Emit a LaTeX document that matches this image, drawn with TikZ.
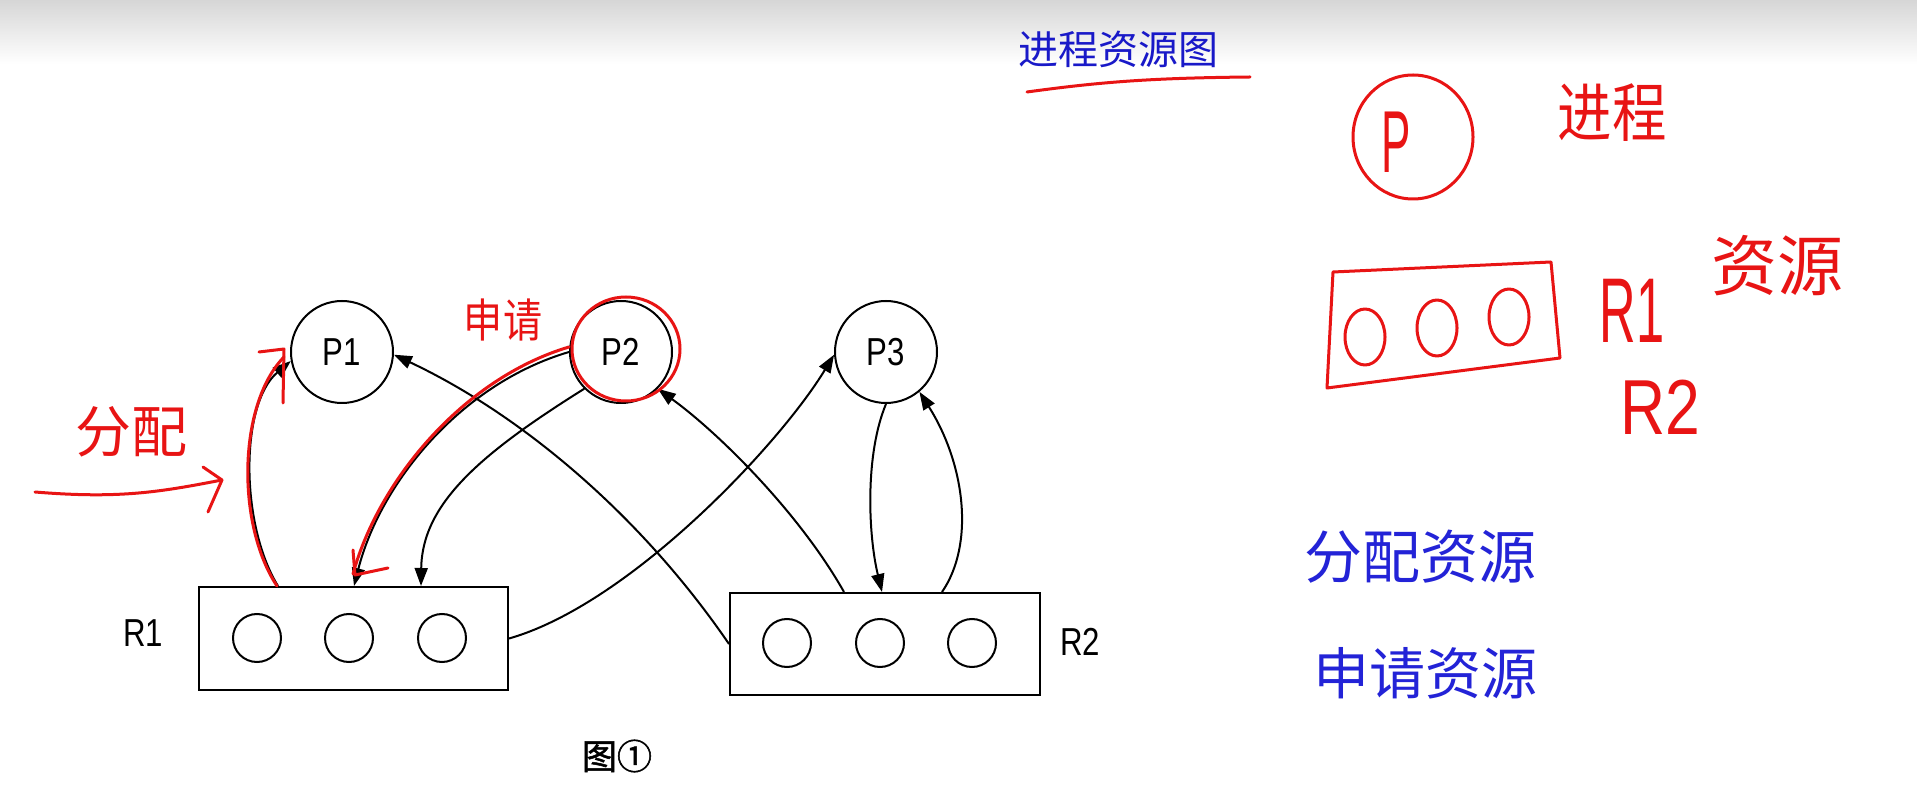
\documentclass[tikz,border=0pt]{standalone}
\usepackage{fontspec}
\setmainfont{Liberation Sans}
\newfontfamily\lab[FakeStretch=0.8]{Liberation Sans}
\newfontfamily\cjk{Noto Sans CJK SC}
\newfontfamily\cjkb[FakeBold=1.5]{Noto Sans CJK SC}
\usetikzlibrary{arrows.meta}
\definecolor{penred}{RGB}{232,20,20}
\definecolor{penblue}{RGB}{35,35,215}
\definecolor{titleblue}{RGB}{25,25,200}
\tikzset{
  proc/.style={circle, draw, line width=2pt, minimum size=102pt, inner sep=0pt, font=\lab\fontsize{39}{39}\selectfont},
  res/.style={rectangle, draw, line width=2pt, inner sep=0pt},
  tok/.style={circle, draw, line width=2pt, minimum size=48pt, inner sep=0pt},
  lbl/.style={font=\lab\fontsize{39}{39}\selectfont},
  edge/.style={line width=2pt, -{Triangle[length=18pt,width=13pt]}},
  redpen/.style={draw=penred, line width=3pt, line cap=round, line join=round},
  redtxt/.style={text=penred, inner sep=0pt},
  bluetxt/.style={text=penblue, inner sep=0pt},
}
\begin{document}
\begin{tikzpicture}[x=1pt,y=1pt]
\useasboundingbox (0,0) rectangle (1917,804);
\fill[white] (0,0) rectangle (1917,804);
\shade[top color=black!16, bottom color=white] (0,740) rectangle (1917,804);

% processes
\node[proc] (P1) at (342,452) {P1};
\node[proc] (P2) at (621,452) {P2};
\node[proc] (P3) at (886,452) {P3};

% resources
\node[res, minimum width=309pt, minimum height=103pt] (R1) at (353.5,165.5) {};
\node[tok] (r11) at (257,166) {};
\node[tok] (r12) at (349,166) {};
\node[tok] (r13) at (442,166) {};
\node[lbl] (R1l) at (143,171) {R1};

\node[res, minimum width=310pt, minimum height=102pt] (R2) at (885,160) {};
\node[tok] (r21) at (787,161) {};
\node[tok] (r22) at (880,161) {};
\node[tok] (r23) at (972,161) {};
\node[lbl] (R2l) at (1080,162) {R2};

\node (fig) at (617,48) {\cjkb\fontsize{35}{35}\selectfont 图①};

% edges
\draw[edge] ([xshift=80pt]R1.north west) .. controls (240,280) and (240,400) .. (P1.190);
\draw[edge] (P2.225) .. controls (480,350) and (422,300) .. ([xshift=223pt]R1.north west);
\draw[edge] (P2.180) .. controls (460,420) and (380,320) .. ([xshift=156pt]R1.north west);
\draw[edge] (R2.west) .. controls (640,290) and (520,390) .. (P1.-3);
\draw[edge] (R1.east) .. controls (630,200) and (780,360) .. (P3.183);
\draw[edge] ([xshift=115pt]R2.north west) .. controls (800,290) and (720,370) .. (P2.-45);
\draw[edge] (P3.south) .. controls (865,350) and (868,270) .. ([xshift=153pt]R2.north west);
\draw[edge] ([xshift=213pt]R2.north west) .. controls (975,260) and (965,340) .. (P3.-50);

% red annotations on the diagram
\draw[redpen] (626,455) ellipse (54 and 52);
\draw[redpen] (569,457) .. controls (462,425) and (378,322) .. (353,230);
\draw[redpen] (353,254) -- (355,229) -- (388,236);
\draw[redpen] (277,218) .. controls (236,280) and (238,400) .. (284,447);
\draw[redpen] (259,452) -- (284,455) -- (283,401);
\node[redtxt] (fp) at (131,372) {\cjk\fontsize{56}{56}\selectfont 分配};
\draw[redpen] (35,312) .. controls (120,305) and (160,312) .. (222,324);
\draw[redpen] (203,337) -- (222,324) -- (208,292);
\node[redtxt] (sq) at (503,484) {\scalebox{0.85}[1]{\cjk\fontsize{46}{46}\selectfont 申请}};

% title
\node[text=titleblue, inner sep=0pt] (title) at (1118,755) {\cjk\fontsize{40}{40}\selectfont 进程资源图};
\draw[redpen] (1027,712) .. controls (1100,722) and (1150,726) .. (1250,727);

% legend
\draw[redpen] (1413,667) ellipse (60 and 62);
\node[redtxt] (lp) at (1396,662) {\scalebox{0.5}[1]{\fontsize{88}{88}\selectfont P}};
\node[redtxt] (lproc) at (1612,691) {\scalebox{0.85}[1]{\cjk\fontsize{64}{64}\selectfont 进程}};
\draw[redpen] (1333,532) -- (1551,542) -- (1560,446) -- (1327,416) -- cycle;
\draw[redpen] (1365,467) ellipse (20 and 28);
\draw[redpen] (1437,476) ellipse (20 and 28);
\draw[redpen] (1509,487) ellipse (20 and 28);
\node[redtxt] (lr1) at (1632,493) {\scalebox{0.55}[1]{\fontsize{92}{92}\selectfont R1}};
\node[redtxt] (lr2) at (1660,397) {\scalebox{0.8}[1]{\fontsize{78}{78}\selectfont R2}};
\node[redtxt] (lres) at (1777,538) {\cjk\fontsize{66}{66}\selectfont 资源};

\node[bluetxt] (alloc) at (1420,247) {\cjk\fontsize{58}{58}\selectfont 分配资源};
\node[bluetxt] (req) at (1425,131) {\cjk\fontsize{56}{56}\selectfont 申请资源};
\end{tikzpicture}
\end{document}
